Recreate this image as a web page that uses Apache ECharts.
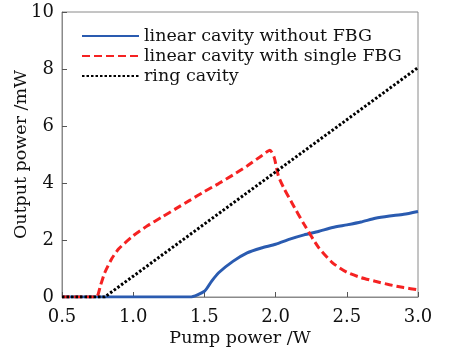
<!DOCTYPE html>
<html>
<head>
<meta charset="utf-8">
<script src="https://cdn.jsdelivr.net/npm/echarts@6/dist/echarts.min.js"></script>
<style>
  html, body { margin: 0; padding: 0; background: #fff; }
  #chart { width: 449px; height: 352px; }
</style>
</head>
<body>
<div id="chart"></div>
<script>
// pump power (W) / output power (mW)
const withoutFbg = [
  [0.5, 0], [0.8, 0], [1.0, 0], [1.2, 0], [1.4, 0], [1.5, 0.2], [1.55, 0.55],
  [1.6, 0.85], [1.7, 1.25], [1.8, 1.55], [1.9, 1.72], [2.0, 1.85], [2.1, 2.03],
  [2.2, 2.18], [2.3, 2.3], [2.4, 2.44], [2.5, 2.53], [2.6, 2.63], [2.7, 2.76],
  [2.8, 2.84], [2.9, 2.9], [3.0, 3.0]
]
const singleFbg = [
  [0.5, 0], [0.74, 0], [0.77, 0.4], [0.8, 0.85], [0.85, 1.35], [0.9, 1.7],
  [1.0, 2.15], [1.1, 2.5], [1.2, 2.8], [1.3, 3.1], [1.4, 3.4], [1.5, 3.7],
  [1.6, 3.98], [1.7, 4.28], [1.8, 4.6], [1.9, 4.95], [1.96, 5.15], [1.99, 4.9],
  [2.02, 4.24], [2.06, 3.8], [2.115, 3.3], [2.2, 2.55], [2.3, 1.75], [2.4, 1.2],
  [2.5, 0.87], [2.6, 0.68], [2.7, 0.55], [2.8, 0.43], [2.9, 0.33], [3.0, 0.25]
]
const ringCavity = [
  [0.5, 0], [0.8, 0], [1.0, 0.73], [1.5, 2.56], [2.0, 4.39], [2.5, 6.22], [3.0, 8.05]
]
const seriesNames = ['linear cavity without FBG', 'linear cavity with single FBG', 'ring cavity']

const chart = echarts.init(document.getElementById('chart'))
const font = 'DejaVu Serif'

chart.setOption({
  animation: false,
  grid: {
    left: 62, top: 12, right: 31, bottom: 55,
    show: true, borderColor: '#8a8a8a', borderWidth: 1
  },
  legend: {
    orient: 'vertical',
    left: 76, top: 22,
    itemWidth: 57, itemHeight: 14, itemGap: 2,
    itemStyle: { opacity: 0 },
    textStyle: { fontFamily: font, fontSize: 17.5, color: '#111' },
    data: seriesNames
  },
  xAxis: {
    type: 'value', min: 0.5, max: 3.0, interval: 0.5,
    name: 'Pump power /W', nameLocation: 'middle', nameGap: 32,
    nameMoveOverlap: false,
    nameTextStyle: { fontFamily: font, fontSize: 17.5, color: '#111' },
    axisLine: { lineStyle: { color: '#8a8a8a' } },
    axisTick: { inside: true, length: 5, lineStyle: { color: '#555' } },
    axisLabel: { fontFamily: font, fontSize: 18, color: '#111', margin: 11,
      formatter: v => v.toFixed(1) },
    splitLine: { show: false }
  },
  yAxis: {
    type: 'value', min: 0, max: 10, interval: 2,
    name: 'Output power /mW', nameLocation: 'middle', nameGap: 32,
    nameMoveOverlap: false,
    nameTextStyle: { fontFamily: font, fontSize: 17.5, color: '#111' },
    axisLine: { show: true, lineStyle: { color: '#8a8a8a' } },
    axisTick: { show: true, inside: true, length: 5, lineStyle: { color: '#555' } },
    axisLabel: { fontFamily: font, fontSize: 18, color: '#111', margin: 8 },
    splitLine: { show: false }
  },
  series: [
    {
      name: seriesNames[0], type: 'line', data: withoutFbg, symbol: 'none',
      smooth: 0.2, color: '#2a5bb0',
      lineStyle: { width: 3, color: '#2a5bb0' }
    },
    {
      name: seriesNames[1], type: 'line', data: singleFbg, symbol: 'none',
      smooth: 0.2, color: '#f52222',
      lineStyle: { width: 3, color: '#f52222', type: [8, 4] }
    },
    {
      name: seriesNames[2], type: 'line', data: ringCavity, symbol: 'none',
      color: '#000',
      lineStyle: { width: 3, color: '#000', type: [2.5, 2] }
    }
  ]
})
</script>
</body>
</html>
